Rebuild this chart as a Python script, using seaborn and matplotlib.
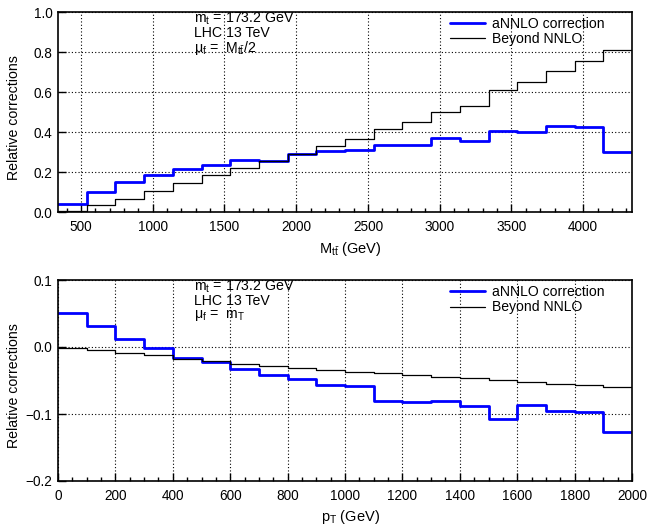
import numpy as np
import pandas as pd
import matplotlib
matplotlib.use("Agg")
import matplotlib.pyplot as plt
from matplotlib.ticker import MultipleLocator, FuncFormatter
import seaborn as sns

# ---------------- data ----------------
mtt_edges = [340, 540, 740, 940, 1140, 1340, 1540, 1740, 1940, 2140, 2340,
             2540, 2740, 2940, 3140, 3340, 3540, 3740, 3940, 4140, 4340]
mtt_annlo = [0.042, 0.100, 0.150, 0.185, 0.213, 0.237, 0.260, 0.253, 0.292, 0.305,
             0.312, 0.333, 0.334, 0.368, 0.357, 0.407, 0.398, 0.430, 0.427, 0.302]
mtt_beyond = [0.003, 0.033, 0.067, 0.105, 0.143, 0.183, 0.220, 0.253, 0.290, 0.328,
              0.367, 0.415, 0.448, 0.502, 0.530, 0.608, 0.648, 0.705, 0.753, 0.810]

pt_edges = [0, 100, 200, 300, 400, 500, 600, 700, 800, 900, 1000,
            1100, 1200, 1300, 1400, 1500, 1600, 1700, 1800, 1900, 2000]
pt_annlo = [0.051, 0.032, 0.0125, -0.0015, -0.0165, -0.0225, -0.033, -0.042, -0.0485, -0.0565,
            -0.0575, -0.080, -0.082, -0.081, -0.0875, -0.108, -0.086, -0.0955, -0.097, -0.1265]
pt_beyond = [-0.0015, -0.004, -0.009, -0.0125, -0.0175, -0.021, -0.0255, -0.029, -0.032, -0.034,
             -0.037, -0.0395, -0.0425, -0.045, -0.047, -0.0495, -0.052, -0.0545, -0.057, -0.059]

series_labels = ["aNNLO correction", "Beyond NNLO"]
ylabel_text = "Relative corrections"

# ---------------- style ----------------
sns.set_style("ticks")
plt.rcParams['font.family'] = ['Liberation Sans', 'DejaVu Sans']
plt.rcParams['mathtext.fontset'] = 'custom'
plt.rcParams['mathtext.rm'] = 'Liberation Sans'
plt.rcParams['mathtext.it'] = 'Liberation Sans'
plt.rcParams['mathtext.bf'] = 'Liberation Sans:bold'
plt.rcParams['text.color'] = 'black'
plt.rcParams['axes.labelcolor'] = 'black'
plt.rcParams['xtick.color'] = 'black'
plt.rcParams['ytick.color'] = 'black'

W, H = 647, 525
fig = plt.figure(figsize=(W / 100, H / 100), dpi=100)


def frac_axes(left, top, right, bottom):
    return fig.add_axes([left / W, 1 - bottom / H, (right - left) / W, (bottom - top) / H])


ax1 = frac_axes(58, 12, 632, 212)
ax2 = frac_axes(58, 280, 632, 481)


def step_df(edges, vals):
    return pd.DataFrame({"x": edges, "y": list(vals) + [vals[-1]]})


def minus_fmt(v, pos):
    s = "%.1f" % v
    if s == "-0.0":
        s = "0.0"
    return s.replace("-", "\u2212")


def draw(ax, edges, annlo, beyond, xlim, ylim, xmaj, xmin, ymaj, xlabel, texts, xl_y, yl_y):
    sns.lineplot(data=step_df(edges, annlo), x="x", y="y", ax=ax, color="#0000ff",
                 lw=2.0, drawstyle="steps-post", label=series_labels[0], sort=False)
    sns.lineplot(data=step_df(edges, beyond), x="x", y="y", ax=ax, color="black",
                 lw=0.9, drawstyle="steps-post", label=series_labels[1], sort=False)
    ax.set_xlim(*xlim)
    ax.set_ylim(*ylim)
    ax.xaxis.set_major_locator(MultipleLocator(xmaj))
    ax.xaxis.set_minor_locator(MultipleLocator(xmin))
    ax.yaxis.set_major_locator(MultipleLocator(ymaj))
    ax.yaxis.set_major_formatter(FuncFormatter(minus_fmt))
    ax.grid(True, which="major", color="black", lw=0.8, ls=(0, (1, 2)))
    ax.tick_params(axis="both", which="major", direction="in", length=6, width=1,
                   labelsize=9.8, colors="black")
    ax.tick_params(axis="x", which="minor", direction="in", length=3, width=1)
    ax.tick_params(axis="x", which="major", pad=6)
    ax.tick_params(axis="y", which="major", pad=4)
    for s in ax.spines.values():
        s.set_linewidth(1.2)
        s.set_visible(True)
        s.set_color("black")
    ax.set_xlabel(xlabel, fontsize=10.5, color="black")
    ax.set_ylabel(ylabel_text, fontsize=10.2, color="black")
    ax.yaxis.set_label_coords(-0.064, yl_y)
    ax.xaxis.set_label_coords(0.51, xl_y)
    for (t, yy) in zip(texts, [0.965, 0.895, 0.822]):
        ax.text(0.237, yy, t, transform=ax.transAxes, fontsize=10.2, va="center",
                ha="left", color="black")
    leg = ax.legend(loc="upper left", bbox_to_anchor=(0.683, 0.975), frameon=False,
                    fontsize=10.1, handlelength=2.5, handletextpad=0.5, labelspacing=0.1,
                    borderpad=0, borderaxespad=0)
    for t in leg.get_texts():
        t.set_color("black")


draw(ax1, mtt_edges, mtt_annlo, mtt_beyond, (340, 4340), (0, 1.0), 500, 100, 0.2,
     r"M$_{t\bar{t}}$ (GeV)",
     [r"m$_{t}$ = 173.2 GeV", "LHC 13 TeV", r"$\mu_{f}$ =  M$_{t\bar{t}}$/2"],
     -0.14, 0.47)
draw(ax2, pt_edges, pt_annlo, pt_beyond, (0, 2000), (-0.2, 0.1), 200, 50, 0.1,
     r"p$_{T}$ (GeV)",
     [r"m$_{t}$ = 173.2 GeV", "LHC 13 TeV", r"$\mu_{f}$ =  m$_{T}$"],
     -0.135, 0.473)

fig.savefig("out.png", dpi=100)
